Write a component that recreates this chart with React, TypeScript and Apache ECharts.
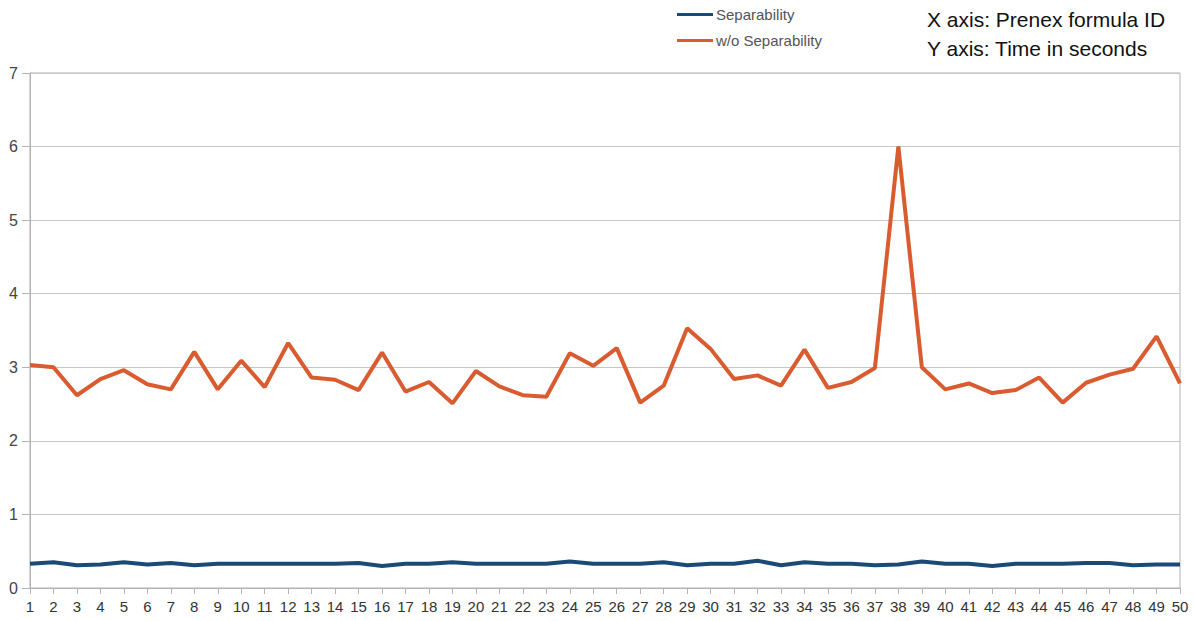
import React, { useEffect, useRef } from "react";
import * as echarts from "echarts";

const categories: string[] = Array.from({ length: 50 }, (_, i) => String(i + 1));

const separability: number[] = [
  0.33, 0.35, 0.31, 0.32, 0.35, 0.32, 0.34, 0.31, 0.33, 0.33,
  0.33, 0.33, 0.33, 0.33, 0.34, 0.30, 0.33, 0.33, 0.35, 0.33,
  0.33, 0.33, 0.33, 0.36, 0.33, 0.33, 0.33, 0.35, 0.31, 0.33,
  0.33, 0.37, 0.31, 0.35, 0.33, 0.33, 0.31, 0.32, 0.36, 0.33,
  0.33, 0.30, 0.33, 0.33, 0.33, 0.34, 0.34, 0.31, 0.32, 0.32,
];

const withoutSeparability: number[] = [
  3.03, 3.0, 2.62, 2.84, 2.96, 2.77, 2.7, 3.21, 2.7, 3.09,
  2.73, 3.33, 2.86, 2.83, 2.69, 3.2, 2.67, 2.8, 2.51, 2.95,
  2.74, 2.62, 2.6, 3.19, 3.02, 3.26, 2.52, 2.75, 3.53, 3.25,
  2.84, 2.89, 2.75, 3.24, 2.72, 2.8, 2.99, 6.0, 3.0, 2.7,
  2.78, 2.65, 2.69, 2.86, 2.52, 2.79, 2.9, 2.98, 3.42, 2.78,
];

const seriesNames = ["Separability", "w/o Separability"];
const noteLines = ["X axis: Prenex formula ID", "Y axis: Time in seconds"];

export default function App() {
  const ref = useRef<HTMLDivElement>(null);
  useEffect(() => {
    if (!ref.current) return;
    const chart = echarts.init(ref.current, null, { renderer: "svg" });
    chart.setOption({
      animation: false,
      backgroundColor: "#ffffff",
      textStyle: { fontFamily: "Liberation Sans" },
      legend: {
        orient: "vertical",
        left: 672,
        top: 2,
        itemWidth: 36,
        itemHeight: 3,
        itemGap: 11,
        icon: "rect",
        textStyle: { color: "#555555", fontSize: 15, fontFamily: "Liberation Sans", padding: [0, 0, 0, -2] },
        data: seriesNames,
      },
      graphic: [
        {
          type: "text",
          left: 927,
          top: 9,
          style: { text: noteLines[0], fontSize: 21, fill: "#111111", fontFamily: "Liberation Sans" },
        },
        {
          type: "text",
          left: 927,
          top: 38,
          style: { text: noteLines[1], fontSize: 21, fill: "#111111", fontFamily: "Liberation Sans" },
        },
      ],
      grid: {
        left: 30,
        right: 14,
        top: 73,
        bottom: 33,
        show: true,
        borderColor: "#b3b3b3",
        borderWidth: 1,
        containLabel: false,
      },
      xAxis: {
        type: "category",
        data: categories,
        boundaryGap: false,
        axisLine: { lineStyle: { color: "#b3b3b3" } },
        axisTick: { show: true, alignWithLabel: true, length: 6, lineStyle: { color: "#b3b3b3" }, interval: 0 },
        axisLabel: { interval: 0, color: "#333333", fontSize: 15, margin: 11, fontFamily: "Liberation Sans" },
        splitLine: { show: false },
      },
      yAxis: {
        type: "value",
        min: 0,
        max: 7,
        interval: 1,
        axisLine: { show: true, lineStyle: { color: "#b3b3b3" } },
        axisTick: { show: true, length: 8, lineStyle: { color: "#b3b3b3" } },
        axisLabel: { color: "#444444", fontSize: 16, margin: 12, fontFamily: "Liberation Sans" },
        splitLine: { show: true, lineStyle: { color: "#c6c6c6", width: 1 } },
      },
      series: [
        {
          name: seriesNames[0],
          type: "line",
          data: separability,
          symbol: "none",
          lineStyle: { color: "#1c4a76", width: 4 },
          itemStyle: { color: "#1c4a76" },
        },
        {
          name: seriesNames[1],
          type: "line",
          data: withoutSeparability,
          symbol: "none",
          lineStyle: { color: "#d95b30", width: 4 },
          itemStyle: { color: "#d95b30" },
        },
      ],
    });
    return () => chart.dispose();
  }, []);
  return <div ref={ref} style={{ width: 1194, height: 621, position: "absolute", left: 0, top: 0 }} />;
}
